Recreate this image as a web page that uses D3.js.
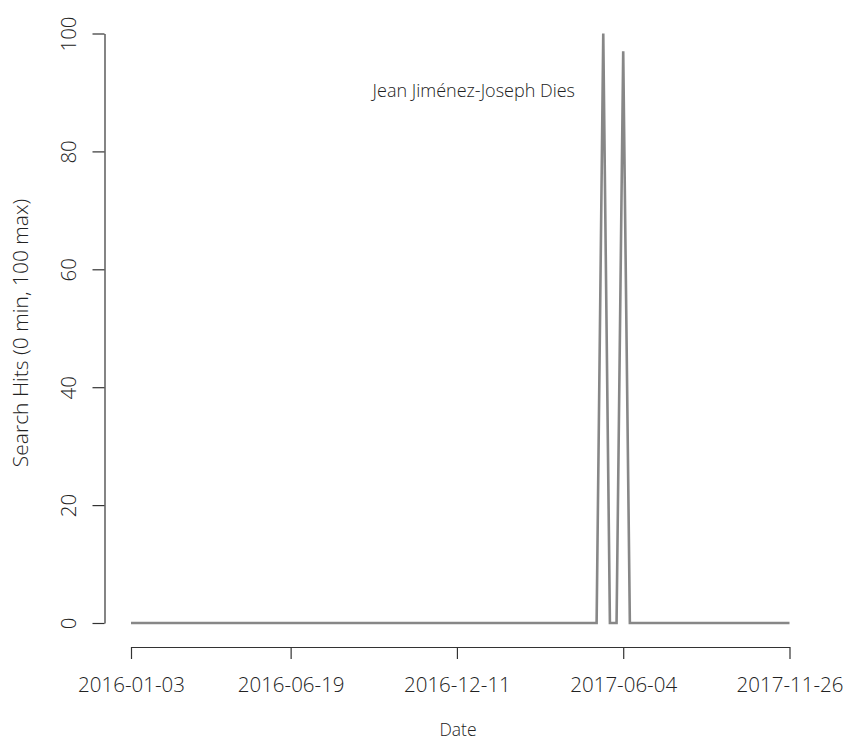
<!DOCTYPE html>
<html>
<head>
<meta charset="utf-8">
<script src="https://cdn.jsdelivr.net/npm/d3@7"></script>
<style>
  html, body { margin: 0; padding: 0; background: #fff; }
  svg { display: block; }
  text { font-family: "Open Sans", "Noto Sans", sans-serif; font-weight: 300; fill: #222; }
</style>
</head>
<body>
<svg id="chart" width="847" height="741"></svg>
<script>
// ---- data ----
const startDate = "2016-01-03";
const weeklyHits = [
  0,0,0,0,0,0,0,0,0,0,
  0,0,0,0,0,0,0,0,0,0,
  0,0,0,0,0,0,0,0,0,0,
  0,0,0,0,0,0,0,0,0,0,
  0,0,0,0,0,0,0,0,0,0,
  0,0,0,0,0,0,0,0,0,0,
  0,0,0,0,0,0,0,0,0,0,
  0,100,0,0,97,0,0,0,0,0,
  0,0,0,0,0,0,0,0,0,0,
  0,0,0,0,0,0,0,0,0,0
];
const xTickLabels = ["2016-01-03", "2016-06-19", "2016-12-11", "2017-06-04", "2017-11-26"];
const yTicks = [0, 20, 40, 60, 80, 100];
const annotation = "Jean Jiménez-Joseph Dies";
const xTitle = "Date";
const yTitle = "Search Hits (0 min, 100 max)";

// ---- chart ----
const parse = d3.timeParse("%Y-%m-%d");
const t0 = parse(startDate);
const series = weeklyHits.map((v, i) => ({ date: d3.timeDay.offset(t0, i * 7), value: v }));
const xTickDates = xTickLabels.map(parse);

const svg = d3.select("#chart");
const x = d3.scaleTime()
  .domain([parse(xTickLabels[0]), parse(xTickLabels[xTickLabels.length - 1])])
  .range([131, 789.5]);
const y = d3.scaleLinear().domain([0, 100]).range([623, 33.5]);

// data line
svg.append("path")
  .datum(series)
  .attr("fill", "none")
  .attr("stroke", "#878787")
  .attr("stroke-width", 2.6)
  .attr("stroke-linejoin", "miter")
  .attr("d", d3.line().x(d => x(d.date)).y(d => y(d.value)));

// x axis (R style, offset below)
const xAxis = d3.axisBottom(x)
  .tickValues(xTickDates)
  .tickFormat(d3.timeFormat("%Y-%m-%d"))
  .tickSize(12)
  .tickSizeOuter(0);
const gx = svg.append("g").attr("transform", "translate(0,647)").call(xAxis);
gx.select(".domain").attr("stroke", "#333").attr("stroke-width", 1.2);
gx.selectAll(".tick line").attr("stroke", "#333").attr("stroke-width", 1.2);
gx.selectAll(".tick text")
  .attr("font-size", 20.5)
  .attr("font-family", "'Open Sans', sans-serif")
  .attr("font-weight", 300)
  .attr("fill", "#222")
  .attr("dy", null)
  .attr("y", 45);

// y axis
const yAxis = d3.axisLeft(y)
  .tickValues(yTicks)
  .tickSize(12)
  .tickSizeOuter(0);
const gy = svg.append("g").attr("transform", "translate(104.5,0)").call(yAxis);
gy.select(".domain").attr("stroke", "#333").attr("stroke-width", 1.2);
gy.selectAll(".tick line").attr("stroke", "#333").attr("stroke-width", 1.2);
gy.selectAll(".tick text")
  .attr("font-size", 20.5)
  .attr("font-family", "'Open Sans', sans-serif")
  .attr("font-weight", 300)
  .attr("fill", "#222")
  .attr("x", 0).attr("y", 0)
  .attr("dy", "0.35em")
  .attr("text-anchor", "middle")
  .attr("transform", "translate(-35.5,0) rotate(-90)");

// annotation
svg.append("text")
  .attr("x", 575).attr("y", 97)
  .attr("text-anchor", "end")
  .attr("font-size", 18)
  .text(annotation);

// axis titles
svg.append("text")
  .attr("x", 458).attr("y", 736)
  .attr("text-anchor", "middle")
  .attr("font-size", 17.5)
  .text(xTitle);

svg.append("text")
  .attr("transform", "translate(21,333) rotate(-90)")
  .attr("dy", "0.35em")
  .attr("text-anchor", "middle")
  .attr("font-size", 21)
  .text(yTitle);
</script>
</body>
</html>
